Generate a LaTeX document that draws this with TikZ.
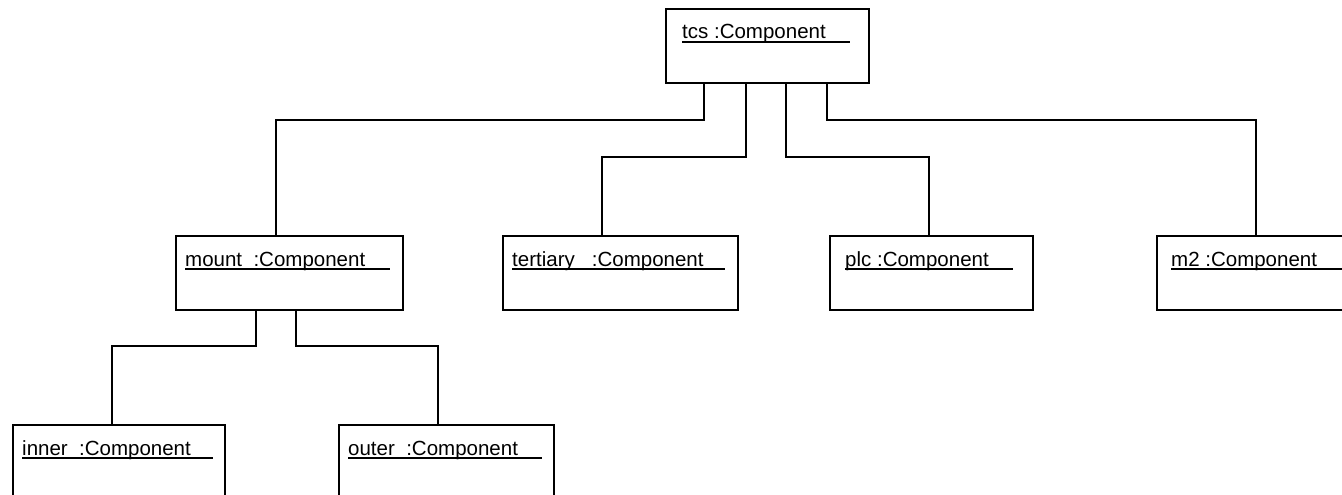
\documentclass[tikz,border=0pt]{standalone}
\usepackage{fontspec}
\setmainfont{Liberation Sans}
\begin{document}
\begin{tikzpicture}[x=1pt,y=-1pt,
  obj/.style={draw=black, line width=1.8pt, fill=white, minimum height=74pt, anchor=north west, inner sep=0pt},
  lbl/.style={anchor=base west, inner sep=0pt, font=\fontsize{20.5}{24}\selectfont},
  uline/.style={line width=1.4pt},
  conn/.style={line width=1.8pt}]
\useasboundingbox (0,0) rectangle (1342,495);
\clip (0,0) rectangle (1342,495);
% objects
\node[obj, minimum width=203pt] (tcs) at (665,8) {};
\node[obj, minimum width=227pt] (mount) at (175,235) {};
\node[obj, minimum width=235pt] (tertiary) at (502,235) {};
\node[obj, minimum width=203pt] (plc) at (829,235) {};
\node[obj, minimum width=200pt] (m2) at (1156,235) {};
\node[obj, minimum width=212pt] (inner) at (12,424) {};
\node[obj, minimum width=215pt] (outer) at (338,424) {};
% labels
\node[lbl] (tcsl) at (682,39) {tcs :Component};
\draw[uline] (682,42) -- (850,42);
\node[lbl] (mountl) at (185,266) {mount\ \ :Component};
\draw[uline] (185,269) -- (390,269);
\node[lbl] (tertiaryl) at (512,266) {tertiary\ \ \ :Component};
\draw[uline] (512,269) -- (725,269);
\node[lbl] (plcl) at (845,266) {plc :Component};
\draw[uline] (845,269) -- (1013,269);
\node[lbl] (m2l) at (1171,266) {m2 :Component};
\draw[uline] (1171,269) -- (1345,269);
\node[lbl] (innerl) at (22,455) {inner\ \ :Component};
\draw[uline] (22,458) -- (213,458);
\node[lbl] (outerl) at (348,455) {outer\ \ :Component};
\draw[uline] (348,458) -- (542,458);
% connector end points
\coordinate (a1) at ([xshift=39pt]tcs.south west);
\coordinate (a2) at ([xshift=81pt]tcs.south west);
\coordinate (a3) at ([xshift=121pt]tcs.south west);
\coordinate (a4) at ([xshift=162pt]tcs.south west);
\coordinate (bm) at ([xshift=101pt]mount.north west);
\coordinate (bt) at ([xshift=100pt]tertiary.north west);
\coordinate (bp) at ([xshift=100pt]plc.north west);
\coordinate (b2) at ([xshift=100pt]m2.north west);
\coordinate (c1) at ([xshift=81pt]mount.south west);
\coordinate (c2) at ([xshift=121pt]mount.south west);
\coordinate (di) at ([xshift=100pt]inner.north west);
\coordinate (do) at ([xshift=100pt]outer.north west);
% connectors
\draw[conn] (a1) -- (a1 |- 0,120) -| (bm);
\draw[conn] (a2) -- (a2 |- 0,157) -| (bt);
\draw[conn] (a3) -- (a3 |- 0,157) -| (bp);
\draw[conn] (a4) -- (a4 |- 0,120) -| (b2);
\draw[conn] (c1) -- (c1 |- 0,346) -| (di);
\draw[conn] (c2) -- (c2 |- 0,346) -| (do);
\end{tikzpicture}
\end{document}
